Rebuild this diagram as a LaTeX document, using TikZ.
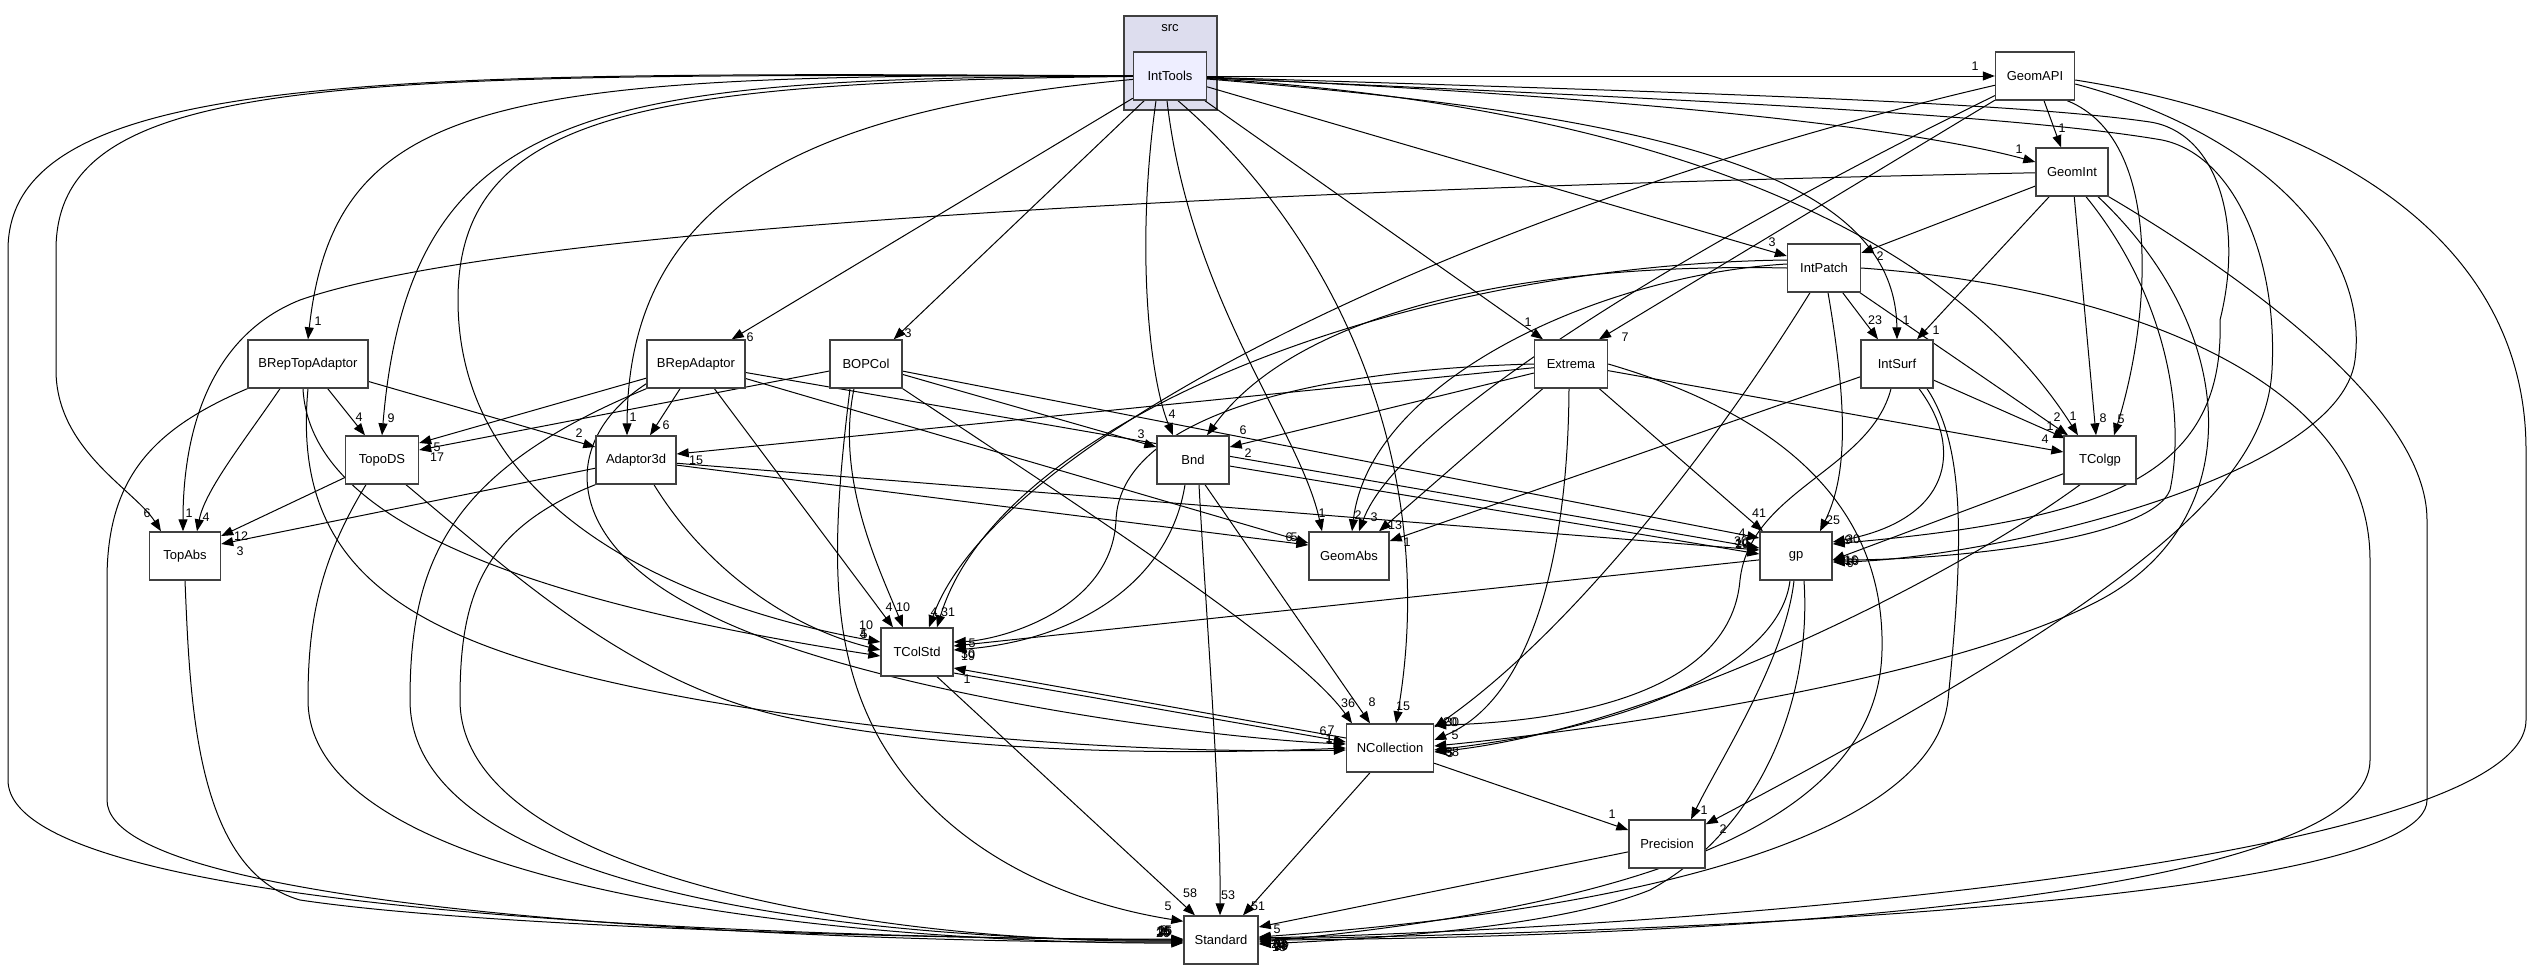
\documentclass[tikz,border=0pt]{standalone}
\usepackage{fontspec}
\newfontfamily\dxfont{Liberation Sans}
\usetikzlibrary{arrows.meta}
\definecolor{clusterfill}{RGB}{221,221,238}
\definecolor{focusfill}{RGB}{238,238,255}
\definecolor{boxline}{RGB}{64,64,64}
\pgfdeclarelayer{clusterlayer}
\pgfdeclarelayer{edgelayer}
\pgfsetlayers{clusterlayer,edgelayer,main}
\tikzset{
 dbox/.style={draw=boxline, line width=1.4pt, fill=white, minimum height=48pt, inner sep=0pt, font=\dxfont\fontsize{13}{15}\selectfont},
 dep/.style={draw=black, line width=1pt, -{Triangle[length=12pt,width=9pt]}},
 lab/.style={inner sep=0pt, font=\dxfont\fontsize{12.5}{14}\selectfont},
}
\newcommand{\lb}[3]{\node[lab] (#1) at (#2) {#3};}
\begin{document}
\begin{tikzpicture}[x=1pt,y=-1pt]
\path[use as bounding box] (0,0) rectangle (2533,969);
% cluster
\begin{pgfonlayer}{clusterlayer}
\node[draw=boxline, line width=1.4pt, fill=clusterfill, minimum width=93pt, minimum height=94pt, inner sep=0pt] (src) at (1170.5,63) {};
\end{pgfonlayer}
\node[lab, font=\dxfont\fontsize{13}{15}\selectfont] (srclabel) at (1170,28) {src};
\node[dbox, fill=focusfill, minimum width=73pt] (IntTools) at (1170,76) {IntTools};
% nodes
\node[dbox, minimum width=79pt] (GeomAPI) at (2035,76) {GeomAPI};
\node[dbox, minimum width=72pt] (GeomInt) at (2072,172) {GeomInt};
\node[dbox, minimum width=73pt] (IntPatch) at (1824,268) {IntPatch};
\node[dbox, minimum width=120pt] (BRepTopAdaptor) at (308,364) {BRepTopAdaptor};
\node[dbox, minimum width=98pt] (BRepAdaptor) at (696,364) {BRepAdaptor};
\node[dbox, minimum width=72pt] (BOPCol) at (866,364) {BOPCol};
\node[dbox, minimum width=73pt] (Extrema) at (1571,364) {Extrema};
\node[dbox, minimum width=72pt] (IntSurf) at (1897,364) {IntSurf};
\node[dbox, minimum width=73pt] (TopoDS) at (382,460) {TopoDS};
\node[dbox, minimum width=80pt] (Adaptor3d) at (636,460) {Adaptor3d};
\node[dbox, minimum width=72pt] (Bnd) at (1193,460) {Bnd};
\node[dbox, minimum width=72pt] (TColgp) at (2100,460) {TColgp};
\node[dbox, minimum width=71pt] (TopAbs) at (185,556) {TopAbs};
\node[dbox, minimum width=80pt] (GeomAbs) at (1349,556) {GeomAbs};
\node[dbox, minimum width=72pt] (gp) at (1796,556) {gp};
\node[dbox, minimum width=72pt] (TColStd) at (917,652) {TColStd};
\node[dbox, minimum width=87pt] (NCollection) at (1390,748) {NCollection};
\node[dbox, minimum width=76pt] (Precision) at (1667,844) {Precision};
\node[dbox, minimum width=74pt] (Standard) at (1221,940) {Standard};

\begin{pgfonlayer}{edgelayer}
% ---------- IntTools
\draw[dep] (IntTools) -- (GeomAPI); \lb{l1}{1975,66}{1}
\draw[dep] (IntTools) .. controls (1600,95) and (1900,125) .. ([yshift=10pt]GeomInt.west); \lb{l2}{2019,149}{1}
\draw[dep] (IntTools) -- ([yshift=12pt]IntPatch.west); \lb{l3}{1772,242}{3}
\draw[dep] (IntTools) .. controls (1650,115) and (1895,170) .. (IntSurf.north); \lb{l4}{1906,320}{1}
\draw[dep] (IntTools) .. controls (1700,110) and (1960,250) .. ([xshift=-22pt]TColgp.north); \lb{l5}{2073,416}{1}
\draw[dep] (IntTools) .. controls (1600,90) and (2000,100) .. (2150,122) .. controls (2215,132) and (2245,220) .. (2220,320) .. controls (2225,480) and (2100,520) .. ([yshift=12pt]gp.east); \lb{l6}{1848,540}{9}
\draw[dep] (IntTools) .. controls (1600,96) and (2000,112) .. (2162,140) .. controls (2235,155) and (2278,260) .. (2272,370) .. controls (2266,480) and (2150,590) .. ([yshift=-5pt]Precision.north east); \lb{l7}{1723,829}{2}
\draw[dep] (IntTools) .. controls (400,72) and (8,68) .. (8,250) -- (8,780) .. controls (8,925) and (900,938) .. (Standard.west); \lb{l8}{1163,931}{16}
\draw[dep] (IntTools) .. controls (350,74) and (56,70) .. (56,250) -- (56,370) .. controls (56,450) and (135,490) .. ([xshift=-24pt]TopAbs.north); \lb{l9}{147,513}{6}
\draw[dep] (IntTools) .. controls (500,73) and (335,95) .. (BRepTopAdaptor.north); \lb{l10}{318,321}{1}
\draw[dep] (IntTools) .. controls (600,78) and (410,100) .. (TopoDS.north); \lb{l11}{391,418}{9}
\draw[dep] (IntTools) .. controls (650,82) and (458,110) .. (458,300) .. controls (458,520) and (700,610) .. ([yshift=10pt]TColStd.west); \lb{l12}{866,625}{10}
\draw[dep] (IntTools) .. controls (800,110) and (628,200) .. ([xshift=-9pt]Adaptor3d.north); \lb{l13}{633,417}{1}
\draw[dep] (IntTools) -- ([xshift=-14pt]BRepAdaptor.north east); \lb{l14}{750,337}{6}
\draw[dep] (IntTools) -- ([xshift=-9pt]BOPCol.north east); \lb{l15}{908,333}{3}
\draw[dep] ([xshift=-14pt]IntTools.south) .. controls (1135,250) and (1150,380) .. ([xshift=-20pt]Bnd.north); \lb{l16}{1172,414}{4}
\draw[dep] ([xshift=-3pt]IntTools.south) .. controls (1190,300) and (1300,430) .. ([xshift=-27pt]GeomAbs.north); \lb{l17}{1322,513}{1}
\draw[dep] ([xshift=8pt]IntTools.south) .. controls (1340,240) and (1440,470) .. ([xshift=6pt]NCollection.north); \lb{l18}{1403,706}{15}
\draw[dep] (IntTools) -- ([xshift=-28pt]Extrema.north); \lb{l19}{1528,322}{1}

% ---------- GeomAPI
\draw[dep] (GeomAPI) -- ([xshift=-11pt]GeomInt.north); \lb{l20}{2062,128}{1}
\draw[dep] (GeomAPI) -- ([xshift=28pt]Extrema.north); \lb{l21}{1625,337}{7}
\draw[dep] (GeomAPI) .. controls (1700,240) and (1400,420) .. ([xshift=10pt]GeomAbs.north); \lb{l22}{1374,517}{3}
\draw[dep] (GeomAPI) .. controls (1500,200) and (1000,430) .. ([xshift=12pt]TColStd.north); \lb{l23}{934,612}{4}
\draw[dep] ([xshift=-8pt]GeomAPI.south east) .. controls (2165,140) and (2150,320) .. ([xshift=14pt]TColgp.north); \lb{l24}{2121,419}{5}
\draw[dep] ([yshift=-8pt]GeomAPI.east) .. controls (2250,130) and (2370,240) .. (2355,360) .. controls (2340,480) and (1980,560) .. ([yshift=-6pt]gp.east); \lb{l25}{1850,563}{6}
\draw[dep] ([yshift=-4pt]GeomAPI.east) .. controls (2330,120) and (2526,240) .. (2526,450) -- (2526,720) .. controls (2526,860) and (1700,928) .. ([yshift=2pt]Standard.east); \lb{l26}{1278,944}{28}

% ---------- GeomInt
\draw[dep] (GeomInt) .. controls (1200,190) and (500,230) .. (300,300) .. controls (200,340) and (183,450) .. ([xshift=-2pt]TopAbs.north); \lb{l27}{189,513}{1}
\draw[dep] (GeomInt) -- ([yshift=15pt]IntPatch.east); \lb{l28}{1880,256}{2}
\draw[dep] (GeomInt) -- ([xshift=20pt]IntSurf.north); \lb{l29}{1936,330}{1}
\draw[dep] (GeomInt) -- ([xshift=-4pt]TColgp.north); \lb{l30}{2103,418}{8}
\draw[dep] ([xshift=14pt]GeomInt.south) .. controls (2170,300) and (2185,420) .. (2170,490) .. controls (2150,540) and (1950,560) .. ([yshift=-4pt]gp.east); \lb{l31}{1852,561}{10}
\draw[dep] ([xshift=26pt]GeomInt.south) .. controls (2240,330) and (2250,520) .. (2100,600) .. controls (1950,680) and (1600,730) .. ([yshift=2pt]NCollection.east); \lb{l32}{1449,752}{3}
\draw[dep] (GeomInt.south east) .. controls (2250,280) and (2427,410) .. (2427,520) -- (2427,800) .. controls (2427,900) and (1700,932) .. ([yshift=1pt]Standard.east); \lb{l33}{1281,946}{10}

% ---------- IntPatch
\draw[dep] (IntPatch) -- ([xshift=-19pt]IntSurf.north); \lb{l34}{1875,320}{23}
\draw[dep] (IntPatch) -- ([xshift=-32pt]TColgp.north); \lb{l35}{2057,417}{2}
\draw[dep] ([xshift=4pt]IntPatch.south) .. controls (1850,420) and (1845,480) .. ([xshift=24pt]gp.north); \lb{l36}{1833,520}{25}
\draw[dep] ([xshift=-14pt]IntPatch.south) .. controls (1700,470) and (1560,640) .. ([yshift=-4pt]NCollection.north east); \lb{l37}{1452,722}{30}
\draw[dep] (IntPatch.east) .. controls (2100,285) and (2370,370) .. (2370,560) -- (2370,760) .. controls (2370,900) and (1700,938) .. (Standard.east); \lb{l38}{1280,944}{63}
\draw[dep] ([yshift=4pt]IntPatch.west) .. controls (1600,275) and (1370,380) .. ([xshift=3pt]GeomAbs.north); \lb{l39}{1358,515}{2}
\draw[dep] ([yshift=8pt]IntPatch.west) .. controls (1400,265) and (1000,420) .. ([xshift=20pt]TColStd.north); \lb{l40}{948,612}{31}
\draw[dep] ([yshift=0pt]IntPatch.west) .. controls (1500,262) and (1290,320) .. ([xshift=14pt]Bnd.north); \lb{l41}{1243,430}{6}

% ---------- IntSurf
\draw[dep] (IntSurf) -- ([xshift=2pt,yshift=-3pt]TColgp.north west); \lb{l42}{2050,426}{1}
\draw[dep] ([xshift=22pt]IntSurf.south) .. controls (1965,450) and (1950,520) .. ([yshift=14pt]gp.east); \lb{l43}{1853,539}{30}
\draw[dep] ([xshift=-6pt]IntSurf.south) .. controls (1870,470) and (1750,490) .. (1740,580) .. controls (1730,700) and (1550,722) .. ([yshift=-2pt]NCollection.north east); \lb{l44}{1450,722}{20}
\draw[dep] ([xshift=30pt]IntSurf.south) .. controls (1968,450) and (1962,560) .. (1948,700) .. controls (1935,820) and (1700,905) .. ([yshift=3pt]Standard.east); \lb{l45}{1282,943}{16}
\draw[dep] (IntSurf) -- ([yshift=15pt]GeomAbs.east); \lb{l46}{1407,542}{1}

% ---------- Extrema
\draw[dep] (Extrema) -- ([yshift=6pt]Adaptor3d.east); \lb{l47}{696,460}{15}
\draw[dep] (Extrema) -- ([yshift=13pt]Bnd.east); \lb{l48}{1248,453}{2}
\draw[dep] (Extrema) -- ([xshift=30pt]GeomAbs.north); \lb{l49}{1395,525}{13}
\draw[dep] (Extrema) -- ([yshift=8pt]TColgp.west); \lb{l50}{2045,439}{4}
\draw[dep] (Extrema) -- ([xshift=-33pt]gp.north); \lb{l51}{1759,513}{41}
\draw[dep] ([xshift=-2pt]Extrema.south) .. controls (1568,560) and (1530,700) .. ([yshift=8pt]NCollection.east); \lb{l52}{1455,735}{5}
\draw[dep] (Extrema.west) .. controls (1300,370) and (1120,420) .. (1116,520) .. controls (1112,610) and (1000,640) .. ([yshift=10pt]TColStd.east); \lb{l53}{972,643}{5}
\draw[dep] (Extrema.east) .. controls (1800,420) and (1885,520) .. (1882,650) .. controls (1879,820) and (1650,905) .. ([yshift=-2pt]Standard.east); \lb{l54}{1279,947}{18}

% ---------- Bnd
\draw[dep] (Bnd) -- ([yshift=2pt]gp.west); \lb{l55}{1742,543}{10}
\draw[dep] ([xshift=-8pt]Bnd.south) .. controls (1170,580) and (1080,640) .. ([yshift=2pt]TColStd.east); \lb{l56}{968,656}{19}
\draw[dep] ([xshift=12pt]Bnd.south) -- ([xshift=-20pt]NCollection.north); \lb{l57}{1372,702}{8}
\draw[dep] ([xshift=6pt]Bnd.south) .. controls (1205,600) and (1221,800) .. ([xshift=-1pt]Standard.north); \lb{l58}{1228,895}{53}

% ---------- BOPCol
\draw[dep] (BOPCol) -- ([yshift=10pt]TopoDS.east); \lb{l59}{437,457}{17}
\draw[dep] (BOPCol) -- ([yshift=13pt]Bnd.west); \lb{l60}{1141,434}{3}
\draw[dep] (BOPCol) -- ([yshift=18pt]gp.west); \lb{l61}{1742,533}{4}
\draw[dep] (BOPCol.south east) .. controls (1100,520) and (1300,650) .. ([xshift=-38pt]NCollection.north); \lb{l62}{1348,703}{36}
\draw[dep] ([xshift=-12pt]BOPCol.south) .. controls (835,480) and (880,570) .. ([xshift=-14pt]TColStd.north); \lb{l63}{903,607}{10}
\draw[dep] ([xshift=-16pt]BOPCol.south) .. controls (830,550) and (830,650) .. (880,740) .. controls (950,860) and (1080,905) .. ([yshift=-6pt]Standard.north west); \lb{l64}{1168,906}{5}

% ---------- BRepAdaptor
\draw[dep] (BRepAdaptor) -- ([yshift=17pt]TopoDS.east); \lb{l65}{437,447}{5}
\draw[dep] (BRepAdaptor) -- ([xshift=14pt]Adaptor3d.north); \lb{l66}{666,425}{6}
\draw[dep] (BRepAdaptor) -- ([xshift=-24pt]TColStd.north); \lb{l67}{889,607}{4}
\draw[dep] (BRepAdaptor) -- ([yshift=13pt]GeomAbs.west); \lb{l68}{1289,537}{6}
\draw[dep] (BRepAdaptor) -- ([yshift=8pt]gp.west); \lb{l69}{1742,544}{29}
\draw[dep] (BRepAdaptor.south west) .. controls (450,470) and (410,560) .. (410,700) .. controls (410,900) and (900,942) .. (Standard.west); \lb{l70}{1165,930}{15}
\draw[dep] ([yshift=5pt]BRepAdaptor.south west) .. controls (560,440) and (560,540) .. (700,610) .. controls (850,690) and (1200,738) .. ([yshift=4pt]NCollection.west); \lb{l71}{1329,739}{1}

% ---------- BRepTopAdaptor
\draw[dep] ([xshift=-28pt]BRepTopAdaptor.south) .. controls (245,440) and (205,490) .. ([xshift=12pt]TopAbs.north); \lb{l72}{206,517}{4}
\draw[dep] (BRepTopAdaptor) -- ([xshift=-17pt]TopoDS.north); \lb{l73}{359,417}{4}
\draw[dep] (BRepTopAdaptor) -- ([yshift=13pt]Adaptor3d.west); \lb{l74}{579,433}{2}
\draw[dep] (BRepTopAdaptor.south west) .. controls (150,430) and (107,480) .. (107,580) -- (107,800) .. controls (107,920) and (900,944) .. ([yshift=-2pt]Standard.west); \lb{l75}{1164,932}{25}
\draw[dep] ([xshift=-5pt]BRepTopAdaptor.south) .. controls (310,520) and (520,600) .. ([yshift=-4pt]TColStd.west); \lb{l76}{863,634}{4}
\draw[dep] (BRepTopAdaptor.south) .. controls (290,580) and (420,650) .. (700,700) .. controls (1000,752) and (1250,752) .. ([yshift=-2pt]NCollection.west); \lb{l77}{1323,731}{6}

% ---------- TopoDS
\draw[dep] (TopoDS) -- ([yshift=20pt]TopAbs.east); \lb{l78}{241,536}{12}
\draw[dep] ([xshift=-16pt]TopoDS.south) .. controls (320,560) and (308,620) .. (308,700) .. controls (308,900) and (900,944) .. ([yshift=-3pt]Standard.west); \lb{l79}{1163,933}{20}
\draw[dep] ([xshift=24pt]TopoDS.south) .. controls (520,580) and (640,690) .. (800,720) .. controls (1000,760) and (1250,752) .. (NCollection.west); \lb{l80}{1329,738}{1}

% ---------- Adaptor3d
\draw[dep] (Adaptor3d) -- ([yshift=12pt]TopAbs.east); \lb{l81}{240,551}{3}
\draw[dep] (Adaptor3d) -- ([yshift=11pt]GeomAbs.west); \lb{l82}{1294,537}{5}
\draw[dep] (Adaptor3d) -- ([yshift=6pt]gp.west); \lb{l83}{1741,541}{30}
\draw[dep] ([xshift=18pt]Adaptor3d.south) .. controls (700,560) and (780,625) .. ([yshift=2pt]TColStd.west); \lb{l84}{864,634}{5}
\draw[dep] (Adaptor3d.south west) .. controls (480,530) and (460,600) .. (460,700) .. controls (460,880) and (900,944) .. ([yshift=-1pt]Standard.west); \lb{l85}{1165,931}{26}

% ---------- TopAbs
\draw[dep] (TopAbs.south) .. controls (190,700) and (195,870) .. (300,900) .. controls (500,930) and (1000,940) .. ([yshift=1pt]Standard.west); \lb{l86}{1164,930}{2}

% ---------- TColStd / NCollection
\draw[dep] ([yshift=10pt]NCollection.west) -- ([yshift=-16pt]TColStd.east); \lb{l87}{967,679}{1}
\draw[dep] ([yshift=-21pt]TColStd.east) -- ([yshift=6pt]NCollection.west); \lb{l88}{1331,730}{7}
\draw[dep] ([xshift=20pt]TColStd.south) -- ([xshift=-26pt]Standard.north); \lb{l89}{1190,893}{58}
\draw[dep] ([xshift=-20pt]NCollection.south) -- ([xshift=22pt]Standard.north); \lb{l90}{1258,906}{51}
\draw[dep] (NCollection) -- ([yshift=14pt]Precision.west); \lb{l91}{1612,814}{1}

% ---------- gp
\draw[dep] (gp) -- ([yshift=6pt]TColStd.east); \lb{l92}{968,654}{30}
\draw[dep] ([xshift=-6pt]gp.south) .. controls (1780,660) and (1650,725) .. ([yshift=-2pt]NCollection.east); \lb{l93}{1452,752}{58}
\draw[dep] ([xshift=8pt]gp.south) .. controls (1812,700) and (1760,830) .. (1650,890) .. controls (1550,930) and (1350,940) .. ([yshift=-4pt]Standard.east); \lb{l94}{1281,945}{38}
\draw[dep] ([xshift=-2pt]gp.south) .. controls (1785,660) and (1720,760) .. ([xshift=24pt]Precision.north); \lb{l95}{1704,810}{1}

% ---------- TColgp
\draw[dep] (TColgp) -- ([yshift=-4pt]gp.east); \lb{l96}{1851,560}{16}
\draw[dep] ([xshift=-20pt]TColgp.south) .. controls (1950,580) and (1650,730) .. ([yshift=-4pt]NCollection.east); \lb{l97}{1450,753}{5}

% ---------- Precision
\draw[dep] (Precision) -- ([yshift=13pt]Standard.east); \lb{l98}{1277,929}{5}
\end{pgfonlayer}
\end{tikzpicture}
\end{document}
